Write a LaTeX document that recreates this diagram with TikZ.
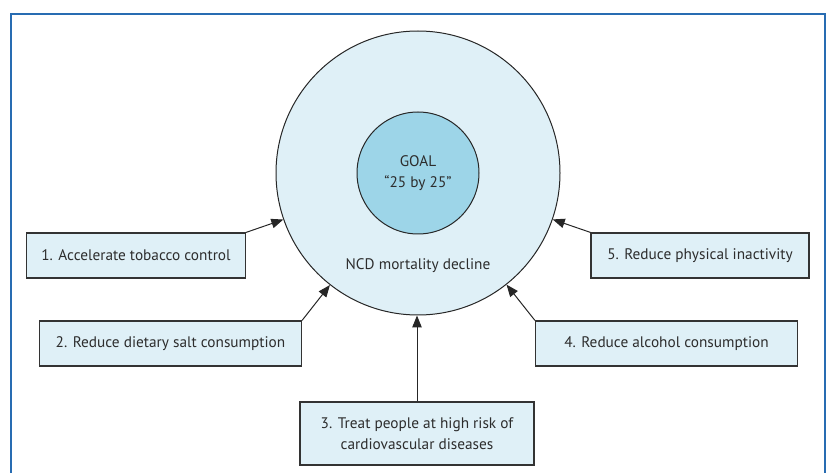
\documentclass[tikz,border=0pt]{standalone}
\usepackage{fontspec}
\setmainfont{PT Sans}
\usetikzlibrary{arrows.meta}
\definecolor{ringblue}{RGB}{223,240,247}
\definecolor{goalblue}{RGB}{157,213,232}
\definecolor{frameblue}{RGB}{40,108,178}
\definecolor{textgrey}{RGB}{45,45,45}
\tikzset{
	measure/.style={draw=black!80, line width=1.2pt, fill=ringblue, text=textgrey,
		font=\fontsize{15.3}{21}\selectfont, align=center, inner sep=0pt},
	push/.style={-{Triangle[length=12pt,width=9.5pt]}, line width=1pt, draw=black!85},
}

\begin{document}
\begin{tikzpicture}[x=1pt, y=-1pt]
		\useasboundingbox (0,0) rectangle (828,473);
		\draw [frameblue, line width=1.5pt] (11,473) -- (11,14) -- (825,14) -- (825,473);
		\node (NCD) at (418,173) 
			[circle, draw=black!85, line width=1pt, fill=ringblue, minimum size=284pt] {}; 
		\node (GOAL) at (418,173) 
			[circle, draw=black!85, line width=1pt, fill=goalblue, minimum size=122pt, 
			text=textgrey, font=\fontsize{15.3}{21}\selectfont, align=center, inner sep=0pt] 
			{GOAL\\“25 by 25”}; 
		\node (NCDL) at (418,266) 
			[text=textgrey, font=\fontsize{15.3}{21}\selectfont] 
			{NCD mortality decline}; 
		\node (TC) at (136,255.5) 
			[measure, minimum width=219pt, minimum height=45pt] 
			{1. Accelerate tobacco control}; 
		\node (SC) at (170.5,343.5) 
			[measure, minimum width=262pt, minimum height=45pt] 
			{2. Reduce dietary salt consumption}; 
		\node (CV) at (417,433.5) 
			[measure, minimum width=234pt, minimum height=63pt] 
			{3. Treat people at high risk of\\cardiovascular diseases}; 
		\node (AC) at (666.5,343.5) 
			[measure, minimum width=262pt, minimum height=45pt] 
			{4. Reduce alcohol consumption}; 
		\node (PI) at (700,255.5) 
			[measure, minimum width=218pt, minimum height=45pt] 
			{5. Reduce physical inactivity}; 
		\draw [push] (TC.north east) to (NCD);
		\draw [push] (SC.north east) to (NCD);
		\draw [push] (CV.north) to (CV.north |- NCD.south);
		\draw [push] (AC.north west) to (NCD);
		\draw [push] (PI.north west) to (NCD);
	\end{tikzpicture}
\end{document}
